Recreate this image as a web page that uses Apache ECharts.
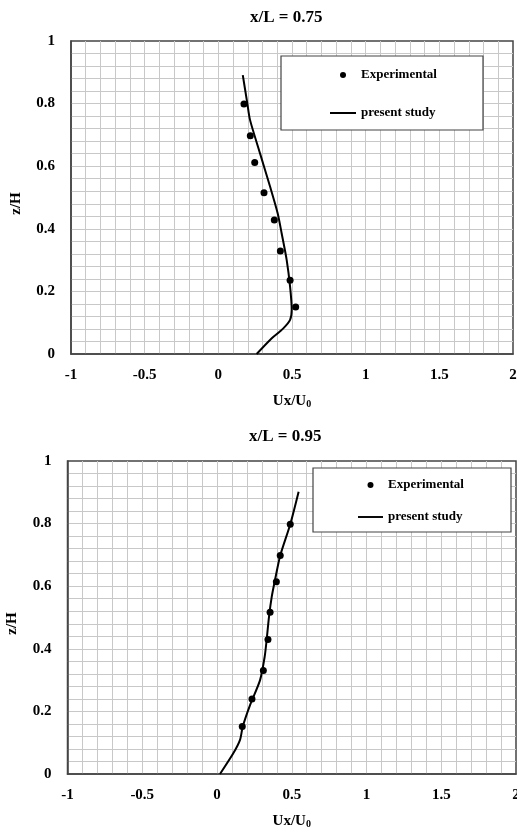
<!DOCTYPE html>
<html>
<head>
<meta charset="utf-8">
<script src="https://cdn.jsdelivr.net/npm/echarts@6/dist/echarts.min.js"></script>
<style>
html,body{margin:0;padding:0;background:#fff;}
#chart{width:517px;height:827px;}
</style>
</head>
<body>
<div id="chart"></div>
<script>
// Titles
const titles = ['x/L = 0.75', 'x/L = 0.95'];
const seriesNames = ['Experimental', 'present study'];

// x/L = 0.75
const topExpX = [0.174, 0.217, 0.247, 0.310, 0.380, 0.421, 0.487, 0.525];
const topExpY = [0.799, 0.697, 0.612, 0.515, 0.428, 0.329, 0.236, 0.150];
const topSimX = [0.166, 0.197, 0.215, 0.283, 0.351, 0.403, 0.430, 0.464, 0.487, 0.498, 0.487, 0.441, 0.351, 0.260];
const topSimY = [0.891, 0.800, 0.748, 0.641, 0.535, 0.449, 0.385, 0.300, 0.215, 0.141, 0.109, 0.082, 0.045, 0.000];

// x/L = 0.95
const botExpX = [0.490, 0.423, 0.397, 0.355, 0.341, 0.310, 0.234, 0.169];
const botExpY = [0.798, 0.698, 0.614, 0.517, 0.430, 0.331, 0.240, 0.152];
const botSimX = [0.546, 0.490, 0.423, 0.388, 0.366, 0.348, 0.332, 0.319, 0.288, 0.221, 0.172, 0.154, 0.109, 0.020];
const botSimY = [0.902, 0.798, 0.698, 0.620, 0.566, 0.503, 0.428, 0.375, 0.300, 0.220, 0.151, 0.109, 0.066, 0.000];

const zip = (a, b) => a.map((v, i) => [v, b[i]]);

const FONT = 'Liberation Serif';
const gridColor = '#c8c8c8';

function xAxisFor(idx) {
  return {
    gridIndex: idx, type: 'value', min: -1, max: 2, interval: 0.5,
    name: 'Ux/U{s|0}', nameLocation: 'middle', nameGap: 40,
    nameTextStyle: {
      fontFamily: FONT, fontWeight: 'bold', fontSize: 15, color: '#000',
      rich: { s: { fontFamily: FONT, fontWeight: 'bold', fontSize: 10, color: '#000', padding: [5, 0, 0, 0] } }
    },
    axisLine: { show: true, onZero: false, lineStyle: { color: '#444', width: 1.5 } },
    axisTick: { show: false },
    minorTick: { show: false, splitNumber: 5 },
    axisLabel: { margin: 14, fontFamily: FONT, fontWeight: 'bold', fontSize: 15, color: '#000' },
    splitLine: { show: true, showMinLine: false, showMaxLine: false, lineStyle: { color: gridColor, width: 1 } },
    minorSplitLine: { show: true, lineStyle: { color: gridColor, width: 1 } }
  };
}
function yAxisFor(idx, gap) {
  return {
    gridIndex: idx, type: 'value', min: 0, max: 1, interval: 0.2,
    name: 'z/H', nameLocation: 'middle', nameGap: gap,
    nameTextStyle: { fontFamily: FONT, fontWeight: 'bold', fontSize: 15, color: '#000', padding: [0, 12, 0, 0] },
    axisLine: { show: true, onZero: false, lineStyle: { color: '#444', width: 1.5 } },
    axisTick: { show: false },
    minorTick: { show: false, splitNumber: 5 },
    axisLabel: { margin: 16, fontFamily: FONT, fontWeight: 'bold', fontSize: 15, color: '#000' },
    splitLine: { show: true, showMinLine: false, showMaxLine: false, lineStyle: { color: gridColor, width: 1 } },
    minorSplitLine: { show: true, lineStyle: { color: gridColor, width: 1 } }
  };
}

const lineIcon = 'path://M0,0 L13,0 L13,1 L0,1 Z';
const legendData = [
  { name: seriesNames[0], icon: 'circle' },
  { name: seriesNames[1], icon: lineIcon }
];

const chart = echarts.init(document.getElementById('chart'), null, { renderer: 'canvas' });
const option = {
  animation: false,
  backgroundColor: '#fff',
  title: [
    { text: titles[0], left: 250, top: 9, padding: 0, textStyle: { fontFamily: FONT, fontWeight: 'bold', fontSize: 17, color: '#000' } },
    { text: titles[1], left: 249, top: 428, padding: 0, textStyle: { fontFamily: FONT, fontWeight: 'bold', fontSize: 17, color: '#000' } }
  ],
  grid: [
    { left: 71, top: 41, width: 442, height: 313, outerBoundsMode: 'none', containLabel: false, show: true, borderColor: '#444', borderWidth: 1.5, backgroundColor: 'transparent' },
    { left: 67.5, top: 461, width: 448.5, height: 313, outerBoundsMode: 'none', containLabel: false, show: true, borderColor: '#444', borderWidth: 1.5, backgroundColor: 'transparent' }
  ],
  xAxis: [xAxisFor(0), xAxisFor(1)],
  yAxis: [yAxisFor(0, 47), yAxisFor(1, 48)],
  legend: [
    {
      orient: 'vertical', left: 325, top: 63.5, itemWidth: 26, itemHeight: 6, itemGap: 25,
      data: legendData,
      textStyle: { fontFamily: FONT, fontWeight: 'bold', fontSize: 13, color: '#000' }
    },
    {
      orient: 'vertical', left: 353, top: 473.5, itemWidth: 25, itemHeight: 6, itemGap: 19,
      data: legendData,
      textStyle: { fontFamily: FONT, fontWeight: 'bold', fontSize: 13, color: '#000' }
    }
  ],
  graphic: [
    { type: 'rect', z: 3, shape: { x: 281, y: 56, width: 202, height: 74 }, style: { fill: '#fff', stroke: '#444', lineWidth: 1.2 } },
    { type: 'rect', z: 3, shape: { x: 313, y: 468, width: 198, height: 64 }, style: { fill: '#fff', stroke: '#444', lineWidth: 1.2 } }
  ],
  series: [
    {
      name: seriesNames[1], type: 'line', xAxisIndex: 0, yAxisIndex: 0,
      data: zip(topSimX, topSimY), symbol: 'none', smooth: 0.25,
      lineStyle: { color: '#000', width: 2 }, itemStyle: { color: '#000' }
    },
    {
      name: seriesNames[0], type: 'scatter', xAxisIndex: 0, yAxisIndex: 0,
      data: zip(topExpX, topExpY), symbol: 'circle', symbolSize: 7,
      itemStyle: { color: '#000', opacity: 1 }
    },
    {
      name: seriesNames[1], type: 'line', xAxisIndex: 1, yAxisIndex: 1,
      data: zip(botSimX, botSimY), symbol: 'none', smooth: 0.25,
      lineStyle: { color: '#000', width: 2 }, itemStyle: { color: '#000' }
    },
    {
      name: seriesNames[0], type: 'scatter', xAxisIndex: 1, yAxisIndex: 1,
      data: zip(botExpX, botExpY), symbol: 'circle', symbolSize: 7,
      itemStyle: { color: '#000', opacity: 1 }
    }
  ]
};
chart.setOption(option);
</script>
</body>
</html>
